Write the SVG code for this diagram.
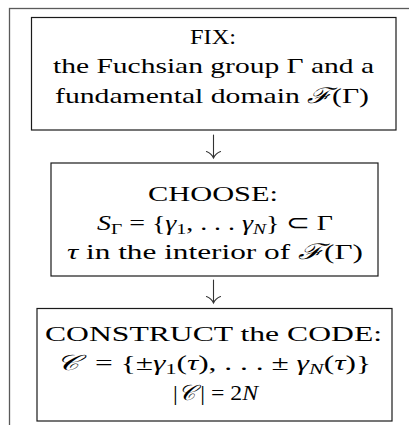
<svg xmlns="http://www.w3.org/2000/svg" width="409" height="425" viewBox="0 0 409 425">
<style>
.frame{fill:none;stroke:#5a5a5a;stroke-width:1.3}
.box{fill:#fff;stroke:#1a1a1a;stroke-width:1.2}
.t{font-family:"Liberation Serif","Times New Roman",serif;font-size:21.5px;fill:#000;text-anchor:middle}
.i{font-style:italic}
.s{font-size:15px}
.c{fill:none;stroke:#333;stroke-width:1.1;stroke-linecap:round}
</style>
<rect width="409" height="425" fill="#fff"/>
<rect class="frame" x="9.5" y="8.5" width="430" height="440"/>
<g id="fix">
<rect class="box" x="31.5" y="17.5" width="364.5" height="112.5"/>
<text class="t" x="213" y="43.5" textLength="46" lengthAdjust="spacingAndGlyphs">FIX:</text>
<text class="t" x="213.5" y="73" textLength="321" lengthAdjust="spacingAndGlyphs">the Fuchsian group Γ and a</text>
<text class="t" x="212" y="102.5" textLength="314" lengthAdjust="spacingAndGlyphs">fundamental domain <tspan class="i">ℱ</tspan>(Γ)</text>
</g>
<g id="choose">
<rect class="box" x="51" y="163" width="327" height="113"/>
<text class="t" x="213" y="201" textLength="130" lengthAdjust="spacingAndGlyphs">CHOOSE:</text>
<text class="t" x="215" y="230" textLength="236" lengthAdjust="spacingAndGlyphs"><tspan class="i">S</tspan><tspan class="s" dy="4">Γ</tspan><tspan dy="-4"> = {</tspan><tspan class="i">γ</tspan><tspan class="s" dy="4">1</tspan><tspan dy="-4">, . . . </tspan><tspan class="i">γ</tspan><tspan class="s i" dy="4">N</tspan><tspan dy="-4">} ⊂ Γ</tspan></text>
<text class="t" x="215" y="259" textLength="296" lengthAdjust="spacingAndGlyphs"><tspan class="i">τ</tspan> in the interior of <tspan class="i">ℱ</tspan>(Γ)</text>
</g>
<g id="construct">
<rect class="box" x="37" y="308.5" width="355" height="112.5"/>
<text class="t" x="213.5" y="340.7" textLength="337" lengthAdjust="spacingAndGlyphs">CONSTRUCT the CODE:</text>
<text class="t" x="213.5" y="370" textLength="315" lengthAdjust="spacingAndGlyphs"><tspan class="i">𝒞</tspan>&#160; = {±<tspan class="i">γ</tspan><tspan class="s" dy="4">1</tspan><tspan dy="-4">(</tspan><tspan class="i">τ</tspan>), . . . ± <tspan class="i">γ</tspan><tspan class="s i" dy="4">N</tspan><tspan dy="-4">(</tspan><tspan class="i">τ</tspan>)}</text>
<text class="t" x="215.5" y="400" textLength="85" lengthAdjust="spacingAndGlyphs">|<tspan class="i">𝒞</tspan>&#8201;| = 2<tspan class="i">N</tspan></text>
</g>
<g id="connectors">
<path class="c" d="M213.5,135 V157.5 M206.5,151.5 Q211.5,153.5 213.5,158 Q215.5,153.5 220.5,151.5"/>
<path class="c" d="M213.5,280 V302.5 M206.5,296.5 Q211.5,298.5 213.5,303 Q215.5,298.5 220.5,296.5"/>
</g>
</svg>
